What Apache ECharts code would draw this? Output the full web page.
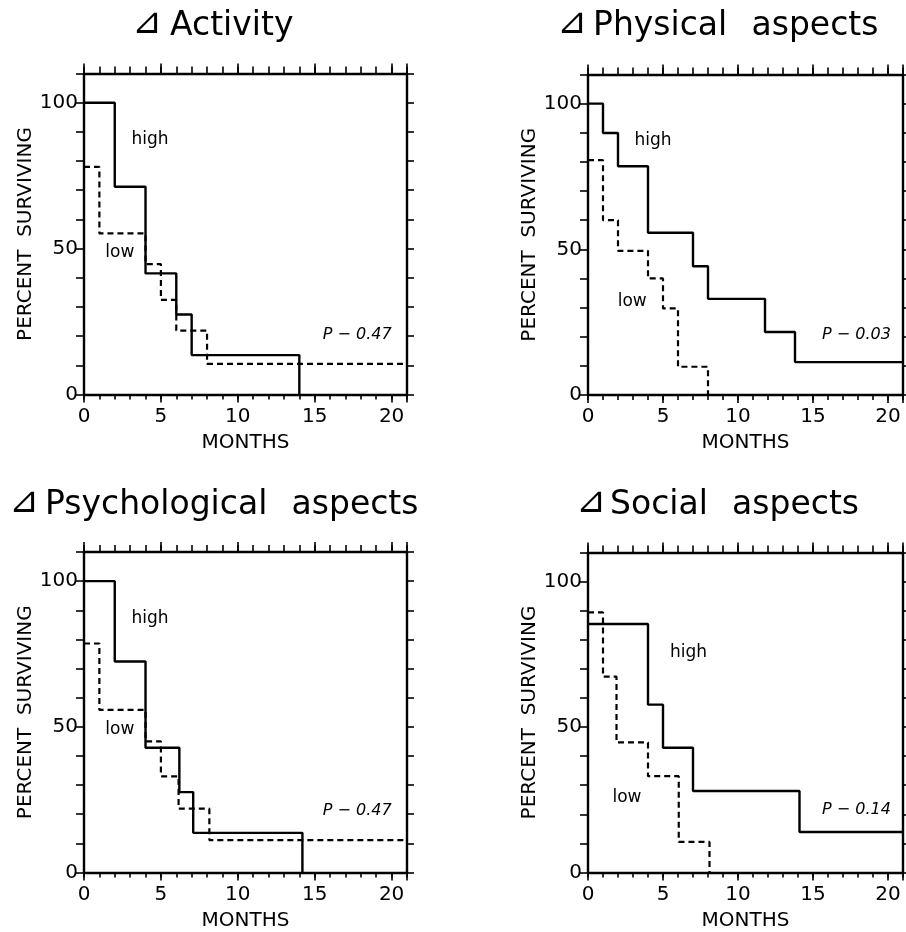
<!DOCTYPE html>
<html><head><meta charset="utf-8">
<script src="https://cdn.jsdelivr.net/npm/echarts@6/dist/echarts.min.js"></script>
<style>html,body{margin:0;padding:0;background:#fff}#c{width:906px;height:932px}</style>
</head><body><div id="c"></div>
<script>
// ---- data ----
const panelTitles = ['Activity', 'Physical  \u200Aaspects', 'Psychological  \u200Aaspects', 'Social  \u200Aaspects'];
const titleMark = '\u22BF';
const xAxisName = 'MONTHS';
const yAxisName = 'PERCENT  SURVIVING';
const groupNames = ['high', 'low'];
const pValueTexts = ['P \u2212 0.47', 'P \u2212 0.03', 'P \u2212 0.47', 'P \u2212 0.14'];

const activityHighMonths = [0, 2, 4, 6, 7, 14];
const activityHighPct    = [100, 71.2, 41.5, 27.4, 13.5, 0];
const activityLowMonths  = [0, 1, 4, 5, 6, 8, 21];
const activityLowPct     = [78, 55.2, 44.7, 32.4, 21.9, 10.5, 10.5];

const physicalHighMonths = [0, 1, 2, 4, 7, 8, 11.8, 13.8, 21];
const physicalHighPct    = [100, 89.9, 78.5, 55.7, 44.2, 33, 21.6, 11.3, 11.3];
const physicalLowMonths  = [0, 1, 2, 4, 5, 6, 8];
const physicalLowPct     = [80.6, 60, 49.5, 40, 29.7, 9.7, 0];

const psychHighMonths = [0, 2, 4, 6.2, 7.1, 14.2];
const psychHighPct    = [100, 72.4, 42.8, 27.6, 13.6, 0];
const psychLowMonths  = [0, 1, 4, 5, 6.15, 8.15, 21];
const psychLowPct     = [78.6, 55.8, 45, 33, 21.9, 11.1, 11.1];

const socialHighMonths = [0, 4, 5, 7, 14.1, 21];
const socialHighPct    = [85.4, 57.7, 42.9, 28, 13.9, 13.9];
const socialLowMonths  = [0, 1, 1.9, 4, 6.05, 8.1];
const socialLowPct     = [89.4, 67.3, 44.7, 33.1, 10.5, 0];

// ---- layout / style ----
const FONT = 'DejaVu Sans';
const grids = [
  {left: 84,  top: 73.5,  width: 323, height: 321},
  {left: 588, top: 74.5,  width: 316, height: 320.5},
  {left: 84,  top: 552,   width: 323, height: 320.5},
  {left: 588, top: 552.5, width: 316, height: 320}
];
const titleTextPos = [[170, 10], [593, 10], [45, 489], [610, 489]];
const titleMarkPos = [[132, 6], [557, 6], [9, 485], [576, 485]];
// annotation anchors in data coordinates [month, percent]
const annotPos = [
  {high: [4.29, 87.3], low: [2.33, 48.8], p: [17.76, 20.5]},
  {high: [4.34, 87.3], low: [2.95, 32.2], p: [17.9, 20.8]},
  {high: [4.29, 87.3], low: [2.33, 48.9], p: [17.76, 21.0]},
  {high: [6.7, 75.5],  low: [2.6, 25.7],  p: [17.9, 21.5]}
];
const curves = [
  [activityHighMonths, activityHighPct, activityLowMonths, activityLowPct],
  [physicalHighMonths, physicalHighPct, physicalLowMonths, physicalLowPct],
  [psychHighMonths, psychHighPct, psychLowMonths, psychLowPct],
  [socialHighMonths, socialHighPct, socialLowMonths, socialLowPct]
];

const lineC = '#000';
const txtC = '#000';
const LW = 2.4;
const zip = (a, b) => a.map((v, i) => [v, b[i]]);

const option = {animation: false, backgroundColor: '#fff', grid: [], xAxis: [], yAxis: [], series: [], title: []};

grids.forEach((g, i) => {
  option.grid.push(Object.assign({containLabel: false}, g));
  option.title.push({text: titleMark, left: titleMarkPos[i][0], top: titleMarkPos[i][1], padding: 0,
    textStyle: {fontFamily: FONT, fontSize: 36, fontWeight: 'normal', color: '#000'}});
  option.title.push({text: panelTitles[i], left: titleTextPos[i][0], top: titleTextPos[i][1], padding: 0,
    textStyle: {fontFamily: FONT, fontSize: 33, fontWeight: 'normal', color: '#000'}});
  const xBase = {gridIndex: i, type: 'value', min: 0, max: 21, splitLine: {show: false}};
  option.xAxis.push(Object.assign({}, xBase, {position: 'bottom', interval: 1,
    axisLine: {show: true, onZero: false, lineStyle: {color: lineC, width: LW}},
    axisTick: {show: true, length: 5, lineStyle: {color: lineC, width: 1.6}},
    axisLabel: {margin: 12, fontFamily: FONT, fontSize: 20, color: txtC,
      formatter: v => (v % 5 === 0 ? String(v) : '')},
    name: xAxisName, nameLocation: 'middle', nameGap: 38,
    nameTextStyle: {fontFamily: FONT, fontSize: 20, color: txtC}}));
  option.xAxis.push(Object.assign({}, xBase, {position: 'bottom', interval: 5,
    axisLine: {show: false, onZero: false}, axisLabel: {show: false},
    axisTick: {show: true, length: 8, lineStyle: {color: lineC, width: 1.6}}}));
  option.xAxis.push(Object.assign({}, xBase, {position: 'top', interval: 1,
    axisLine: {show: true, onZero: false, lineStyle: {color: lineC, width: LW}},
    axisTick: {show: true, length: 7, lineStyle: {color: lineC, width: 1.6}}, axisLabel: {show: false}}));
  option.xAxis.push(Object.assign({}, xBase, {position: 'top', interval: 5,
    axisLine: {show: false, onZero: false}, axisLabel: {show: false},
    axisTick: {show: true, length: 10, lineStyle: {color: lineC, width: 1.6}}}));
  const yBase = {gridIndex: i, type: 'value', min: 0, max: 110, interval: 10, splitLine: {show: false}};
  option.yAxis.push(Object.assign({}, yBase, {position: 'left',
    axisLine: {show: true, onZero: false, lineStyle: {color: lineC, width: LW}},
    axisTick: {show: true, length: 8, lineStyle: {color: lineC, width: 1.6}},
    axisLabel: {margin: 6, fontFamily: FONT, fontSize: 20, color: txtC,
      formatter: v => (v % 50 === 0 ? String(v) : '')},
    name: yAxisName, nameLocation: 'middle', nameGap: 48,
    nameTextStyle: {fontFamily: FONT, fontSize: 20, color: txtC}}));
  option.yAxis.push(Object.assign({}, yBase, {position: 'right',
    axisLine: {show: true, onZero: false, lineStyle: {color: lineC, width: LW}},
    axisTick: {show: true, length: 7, lineStyle: {color: lineC, width: 1.6}}, axisLabel: {show: false}}));

  const [hm, hp, lm, lp] = curves[i];
  const xi = i * 4, yi = i * 2;
  option.series.push({type: 'line', name: groupNames[0], xAxisIndex: xi, yAxisIndex: yi, step: 'end',
    data: zip(hm, hp), symbol: 'none', lineStyle: {color: lineC, width: LW}, z: 3});
  option.series.push({type: 'line', name: groupNames[1], xAxisIndex: xi, yAxisIndex: yi, step: 'end',
    data: zip(lm, lp), symbol: 'none', lineStyle: {color: lineC, width: 2.2, type: [6, 4]}, z: 3});
  const a = annotPos[i];
  const lab = (txt, pos, italic, size) => ({value: [pos[0], pos[1]], name: txt,
    label: {show: true, position: 'inside', formatter: txt, fontFamily: FONT, fontSize: size, opacity: 1,
      fontWeight: 'normal', fontStyle: italic ? 'italic' : 'normal', color: txtC, textBorderWidth: 0}});
  option.series.push({type: 'scatter', xAxisIndex: xi, yAxisIndex: yi, symbolSize: 1,
    itemStyle: {color: 'rgba(255,255,255,0)'}, silent: true, z: 4,
    data: [lab(groupNames[0], a.high, false, 17), lab(groupNames[1], a.low, false, 17), lab(pValueTexts[i], a.p, true, 16)]});
});

const chart = echarts.init(document.getElementById('c'), null, {renderer: 'canvas'});
chart.setOption(option);
</script></body></html>
